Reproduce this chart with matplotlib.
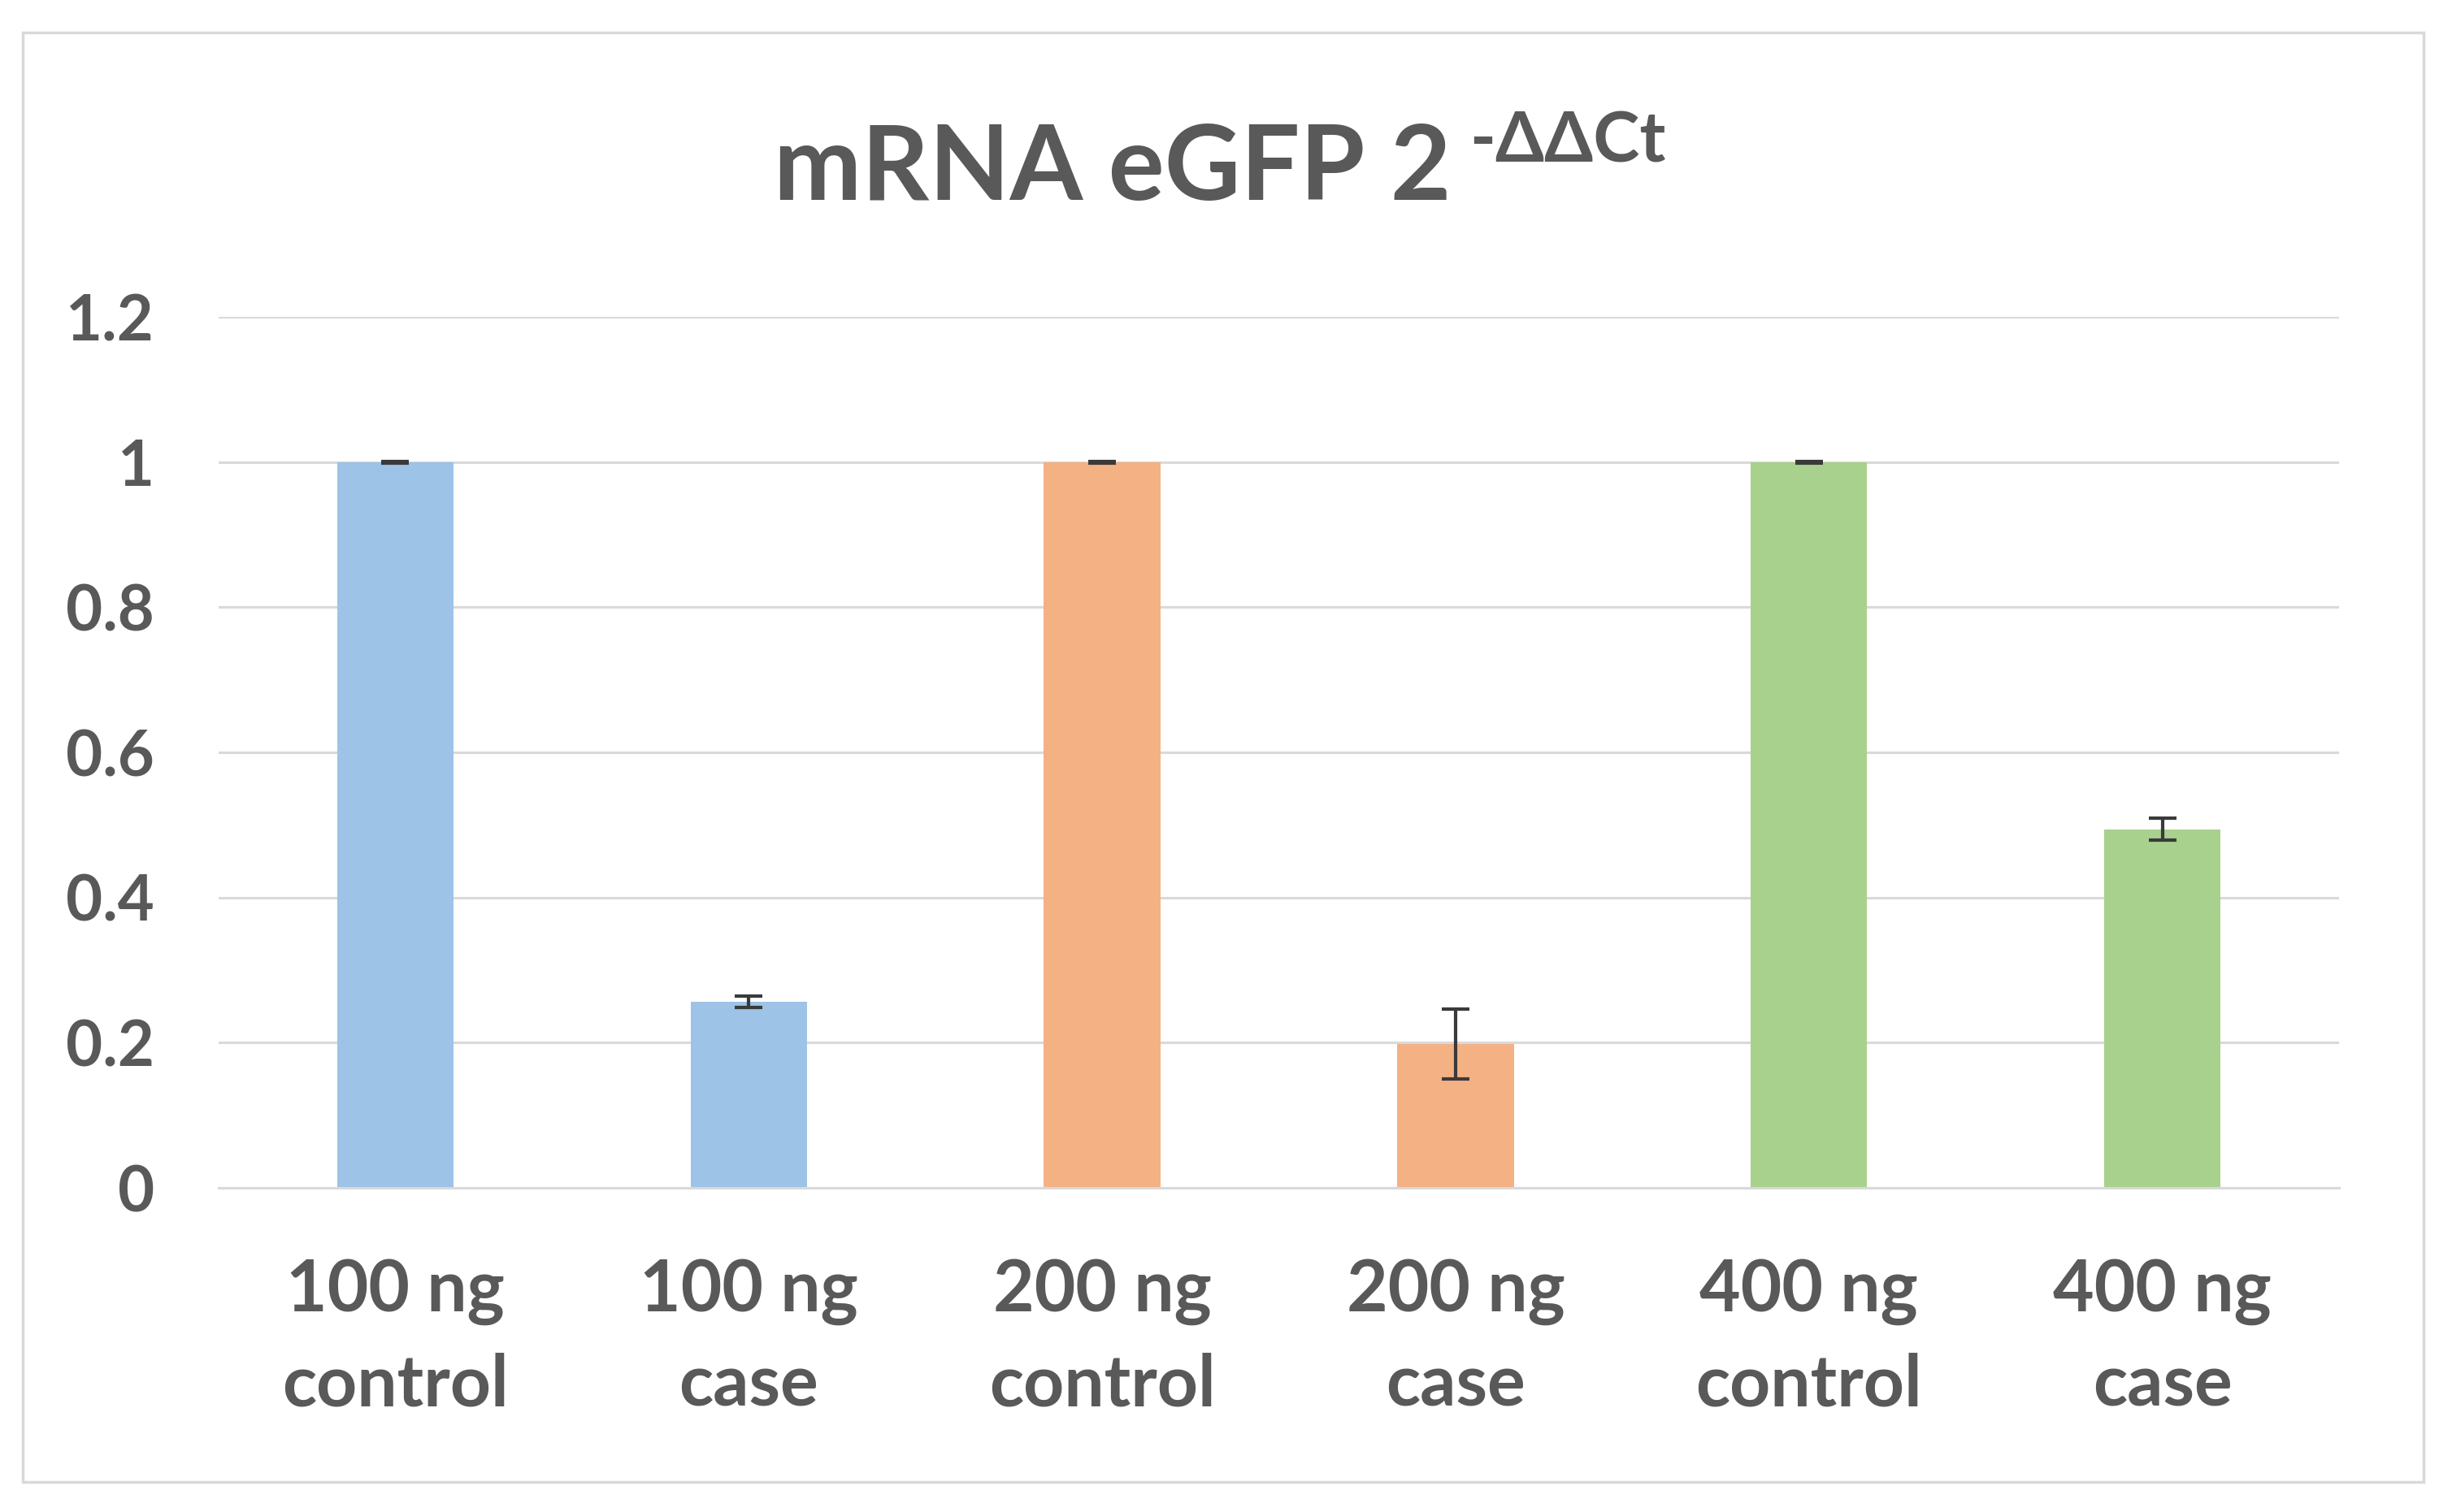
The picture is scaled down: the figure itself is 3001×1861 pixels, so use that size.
import matplotlib
matplotlib.use("Agg")
import matplotlib.pyplot as plt
from matplotlib.patches import Rectangle

# data
labels = ["100 ng\ncontrol", "100 ng\ncase", "200 ng\ncontrol",
          "200 ng\ncase", "400 ng\ncontrol", "400 ng\ncase"]
values = [1.0, 0.256, 1.0, 0.198, 1.0, 0.494]
errors = [0.001, 0.008, 0.001, 0.048, 0.001, 0.015]
colors = ["#9DC3E6", "#9DC3E6", "#F4B183", "#F4B183", "#A9D18E", "#A9D18E"]
yticks = [0, 0.2, 0.4, 0.6, 0.8, 1, 1.2]

txt = "#595959"
grid = "#D9D9D9"
W, H = 3001, 1861

fig = plt.figure(figsize=(W / 100, H / 100), dpi=100)
ax = fig.add_axes([269 / W, 1 - 1462 / H, (2878 - 269) / W, (1462 - 390) / H])

x = range(len(labels))
ax.bar(x, values, width=0.33, color=colors, zorder=2)
ax.errorbar(x, values, yerr=errors, fmt="none", ecolor="#3A3A3A",
            elinewidth=3, capsize=12, capthick=3, zorder=3)

ax.set_xlim(-0.5, len(labels) - 0.5)
ax.set_ylim(0, 1.2)
ax.set_yticks(yticks)
ax.set_yticklabels(["0", "0.2", "0.4", "0.6", "0.8", "1", "1.2"])
ax.set_xticks(list(x))
ax.set_xticklabels(labels, linespacing=1.5)

ax.grid(axis="y", color=grid, linewidth=2.2, zorder=0)
for s in ["top", "right", "left"]:
    ax.spines[s].set_visible(False)
ax.spines["bottom"].set_color(grid)
ax.spines["bottom"].set_linewidth(2.2)
ax.tick_params(axis="both", length=0, colors=txt)
ax.tick_params(axis="y", pad=57, labelsize=56)
ax.tick_params(axis="x", pad=63, labelsize=63)
for t in ax.get_yticklabels() + ax.get_xticklabels():
    t.set_fontfamily("Lato")
    t.set_fontweight("bold")

# title with superscript placed right after the main text
main = fig.text(952 / W, 1 - 246 / H, "mRNA eGFP 2", fontsize=93,
                fontweight="bold", family="Lato", color=txt,
                ha="left", va="baseline")
fig.canvas.draw()
bb = main.get_window_extent(fig.canvas.get_renderer())
fig.text((bb.x1 + 22) / W, 1 - 200 / H, "-ΔΔCt", fontsize=62,
         fontweight="bold", family="Lato", color=txt,
         ha="left", va="baseline")

# chart border
fig.patches.append(Rectangle((28 / W, 1 - 1824 / H), (2982 - 28) / W,
                             (1824 - 40) / H, transform=fig.transFigure,
                             fill=False, edgecolor=grid, linewidth=2.5))

fig.savefig("out.png", dpi=100)
